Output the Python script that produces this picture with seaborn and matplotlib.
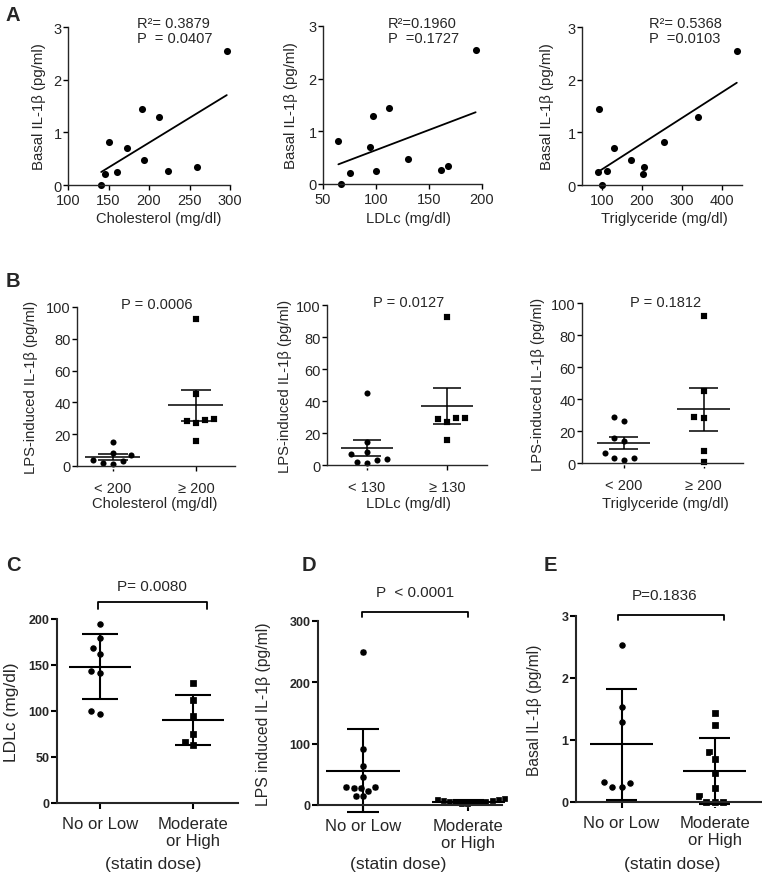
import numpy as np
import pandas as pd
import matplotlib
matplotlib.use("Agg")
import matplotlib.pyplot as plt
import seaborn as sns

# ---------------- data ----------------
basal_il1b = [0.00, 0.21, 0.25, 0.26, 0.34, 0.47, 0.71, 0.81, 1.30, 1.44, 2.54]
cholesterol = [141, 146, 160, 224, 259, 194, 173, 151, 212, 191, 296]
ldlc = [67, 75, 100, 161, 168, 130, 94, 64.5, 97, 112, 194]
triglyceride = [100, 203, 90, 113, 204, 172, 130, 255, 340, 93, 437]
a_xlabels = ["Cholesterol (mg/dl)", "LDLc (mg/dl)", "Triglyceride (mg/dl)"]
a_r2_text = ["R²= 0.3879", "R²=0.1960", "R²= 0.5368"]
a_p_text = ["P  = 0.0407", "P  =0.1727", "P  =0.0103"]

b_chol_low = [14.9, 6.7, 8.4, 3.1, 1.3, 1.9, 3.8]
b_chol_high = [92.5, 45.4, 29.3, 28.5, 26.8, 29.1, 15.9]
b_ldl_low = [45.2, 14.6, 6.7, 8.4, 3.1, 1.3, 1.9, 3.6]
b_ldl_high = [92.3, 29.3, 28.5, 27.0, 29.1, 15.9]
b_tg_low = [26.5, 28.6, 15.4, 14.0, 3.1, 2.1, 2.9, 6.5]
b_tg_high = [91.9, 44.7, 28.0, 29.0, 7.3, 0.6]
b_cats = [["< 200", "≥ 200"], ["< 130", "≥ 130"], ["< 200", "≥ 200"]]
b_p_text = ["P = 0.0006", "P = 0.0127", "P = 0.1812"]

statin_cats = ["No or Low", "Moderate\nor High"]
c_ldl_low = [194.6, 179.3, 168.8, 161.6, 143.1, 141.3, 96.7, 99.6]
c_ldl_high = [130.4, 112.3, 94.2, 75.0, 63.4, 66.8]
d_lps_low = [249, 91.7, 63.5, 45, 28.8, 28.2, 22.8, 14.1, 15.2, 27.7, 28.8]
d_lps_high = [9, 8, 7, 6, 5, 4, 3, 2, 1, 8, 5, 3]
e_basal_low = [2.54, 1.54, 1.29, 0.31, 0.25, 0.25, 0.33]
e_basal_high = [1.44, 1.25, 0.81, 0.70, 0.47, 0.22, 0.09, 0.0, 0.0, 0.0]
cde_p_text = ["P= 0.0080", "P  < 0.0001", "P=0.1836"]

# ---------------- style ----------------
sns.set_style("ticks")
plt.rcParams["font.family"] = ["Liberation Sans", "DejaVu Sans"]
plt.rcParams["axes.unicode_minus"] = False

W, H = 762, 879
fig = plt.figure(figsize=(W / 100, H / 100), dpi=100)


def add_ax(l, t, r, b):
    return fig.add_axes([l / W, 1 - b / H, (r - l) / W, (b - t) / H])


def ftext(x, y, s, **kw):
    fig.text(x / W, 1 - y / H, s, **kw)


def style_axes(ax, lw, ticklen):
    sns.despine(ax=ax)
    for sp in ("left", "bottom"):
        ax.spines[sp].set_linewidth(lw)
        ax.spines[sp].set_zorder(6)
    ax.tick_params(direction="out", length=ticklen, width=lw, color="black")


def set_label_px(ax, rect, xlab_c, xlab_top, ylab_right):
    l, t, r, b = rect
    w, h = r - l, b - t
    ax.xaxis.set_label_coords((xlab_c - l) / w, (b - xlab_top) / h)
    ax.yaxis.set_label_coords((ylab_right - l) / w, 0.5)


# ---------------- panel A ----------------
a_rects = [(68, 28, 230, 186), (323, 27, 482, 185), (582, 28, 742, 186)]
a_x = [cholesterol, ldlc, triglyceride]
a_xlims = [(100, 300), (50, 200), (50, 450)]
a_xticks = [[100, 150, 200, 250, 300], [50, 100, 150, 200], [100, 200, 300, 400]]
a_xlab_c = [159, 408, 664]
a_ylab_r = [46, 298, 554]
a_text_x = [137, 388, 649]
for i in range(3):
    ax = add_ax(*a_rects[i])
    sns.regplot(x=np.array(a_x[i], float), y=np.array(basal_il1b, float), ax=ax, ci=None,
                color="black",
                scatter_kws=dict(s=26, linewidths=0, clip_on=False, zorder=3, alpha=1),
                line_kws=dict(lw=1.3))
    ax.set_xlim(*a_xlims[i])
    ax.set_ylim(0, 3)
    ax.set_xticks(a_xticks[i])
    ax.set_yticks([0, 1, 2, 3])
    style_axes(ax, 1.0, 3.6)
    ax.tick_params(axis="both", labelsize=10.5)
    ax.tick_params(axis="x", pad=2.5)
    ax.tick_params(axis="y", pad=1)
    ax.set_xlabel(a_xlabels[i], fontsize=10.6)
    ax.set_ylabel("Basal IL-1β (pg/ml)", fontsize=10.8)
    set_label_px(ax, a_rects[i], a_xlab_c[i], 212, a_ylab_r[i])
    ftext(a_text_x[i], 24, a_r2_text[i], fontsize=10.5, ha="left", va="center")
    ftext(a_text_x[i], 39, a_p_text[i], fontsize=10.5, ha="left", va="center")


# ---------------- group panels ----------------
def group_panel(ax, low, high, cats, err, elw, size, edge, mean_hw=0.33, cap_hw=0.18,
                high_scale=0.92):
    df = pd.DataFrame({"grp": [cats[0]] * len(low) + [cats[1]] * len(high),
                       "val": list(low) + list(high)})
    sns.swarmplot(data=df[df.grp == cats[0]], x="grp", y="val", order=cats, ax=ax,
                  color="black", marker="o", size=size, edgecolor="white",
                  linewidth=edge, clip_on=False, zorder=3)
    sns.swarmplot(data=df[df.grp == cats[1]], x="grp", y="val", order=cats, ax=ax,
                  color="black", marker="s", size=size * high_scale, edgecolor="white",
                  linewidth=edge, clip_on=False, zorder=3)
    for gi, vals in enumerate([low, high]):
        v = np.asarray(vals, float)
        m = v.mean()
        e = v.std(ddof=1)
        if err == "sem":
            e = e / np.sqrt(len(v))
        kw = dict(colors="black", linewidth=elw, zorder=5, clip_on=False)
        ax.hlines(m, gi - mean_hw, gi + mean_hw, **kw)
        ax.vlines(gi, m - e, m + e, **kw)
        ax.hlines([m - e, m + e], gi - cap_hw, gi + cap_hw, **kw)


# ---------------- panel B ----------------
b_rects = [(77, 308, 235, 467), (327, 306, 487, 466), (582, 304, 743, 464)]
b_data = [(b_chol_low, b_chol_high), (b_ldl_low, b_ldl_high), (b_tg_low, b_tg_high)]
b_xlims = [(-0.43, 1.47), (-0.5, 1.5), (-0.52, 1.49)]
b_xlab_c = [155, 408, 665]
b_ylab_r = [38, 292, 545]
b_text = [(157, 305), (409, 303), (666, 303)]
for i in range(3):
    ax = add_ax(*b_rects[i])
    group_panel(ax, b_data[i][0], b_data[i][1], b_cats[i], "sem", 1.1, 5.7, 1.3)
    ax.set_xlim(*b_xlims[i])
    ax.set_ylim(0, 100)
    ax.set_yticks([0, 20, 40, 60, 80, 100])
    style_axes(ax, 1.0, 3.6)
    ax.tick_params(axis="y", labelsize=10.5, pad=1)
    ax.tick_params(axis="x", labelsize=10.5, pad=7)
    ax.set_xlabel(a_xlabels[i], fontsize=10.6)
    ax.set_ylabel("LPS-induced IL-1β (pg/ml)", fontsize=10.6)
    set_label_px(ax, b_rects[i], b_xlab_c[i], 497, b_ylab_r[i])
    ftext(b_text[i][0], b_text[i][1], b_p_text[i], fontsize=10.5, ha="center", va="center")

# ---------------- panels C, D, E ----------------
cde_rects = [(57, 620, 238, 804), (318, 622, 502, 806), (576, 617, 761, 803)]
cde_data = [(c_ldl_low, c_ldl_high), (d_lps_low, d_lps_high), (e_basal_low, e_basal_high)]
cde_ylims = [(0, 200), (0, 300), (0, 3)]
cde_yticks = [[0, 50, 100, 150, 200], [0, 100, 200, 300], [0, 1, 2, 3]]
cde_xlims = [(-0.46, 1.48), (-0.43, 1.32), (-0.49, 1.5)]
cde_ylabels = ["LDLc (mg/dl)", "LPS induced IL-1β (pg/ml)", "Basal IL-1β (pg/ml)"]
cde_ylab_fs = [12.5, 11.3, 11.2]
cde_xlab_c = [153, 398, 672]
cde_ylab_r = [19, 271, 542]
cde_text = [(152, 587), (415, 593), (665, 596)]
cde_bracket = [(-0.02, 1.15, 1.092, 1.054), (-0.01, 1.0, 1.049, 1.022), (-0.04, 1.10, 1.005, 0.978)]
cde_mean_hw = [0.33, 0.35, 0.34]
cde_cap_hw = [0.19, 0.15, 0.17]
cde_size = [5.6, 5.0, 5.6]
cde_edge = [0.9, 0.2, 0.9]
cde_high_scale = [0.92, 0.8, 0.92]
for i in range(3):
    ax = add_ax(*cde_rects[i])
    group_panel(ax, cde_data[i][0], cde_data[i][1], statin_cats, "sd", 1.5,
                cde_size[i], cde_edge[i], cde_mean_hw[i], cde_cap_hw[i], cde_high_scale[i])
    ax.set_xlim(*cde_xlims[i])
    ax.set_ylim(*cde_ylims[i])
    ax.set_yticks(cde_yticks[i])
    style_axes(ax, 1.5, 4.3)
    ax.tick_params(axis="y", labelsize=9, pad=1)
    for lab in ax.get_yticklabels():
        lab.set_fontweight("bold")
    ax.tick_params(axis="x", labelsize=12, pad=5)
    ax.set_xlabel("(statin dose)", fontsize=12.6)
    ax.set_ylabel(cde_ylabels[i], fontsize=cde_ylab_fs[i])
    set_label_px(ax, cde_rects[i], cde_xlab_c[i], 857, cde_ylab_r[i])
    x0, x1, ytop, yend = cde_bracket[i]
    ax.plot([x0, x0, x1, x1], [yend, ytop, ytop, yend], color="black", lw=1.3,
            transform=ax.get_xaxis_transform(), clip_on=False)
    ftext(cde_text[i][0], cde_text[i][1], cde_p_text[i], fontsize=11, ha="center", va="center")

# ---------------- panel letters ----------------
for letter, (x, y) in zip("ABCDE", [(6, 6), (6, 272), (6, 556), (302, 556), (544, 556)]):
    ftext(x, y, letter, fontsize=14.5, fontweight="bold", ha="left", va="top")

fig.savefig("out.png", dpi=100)
